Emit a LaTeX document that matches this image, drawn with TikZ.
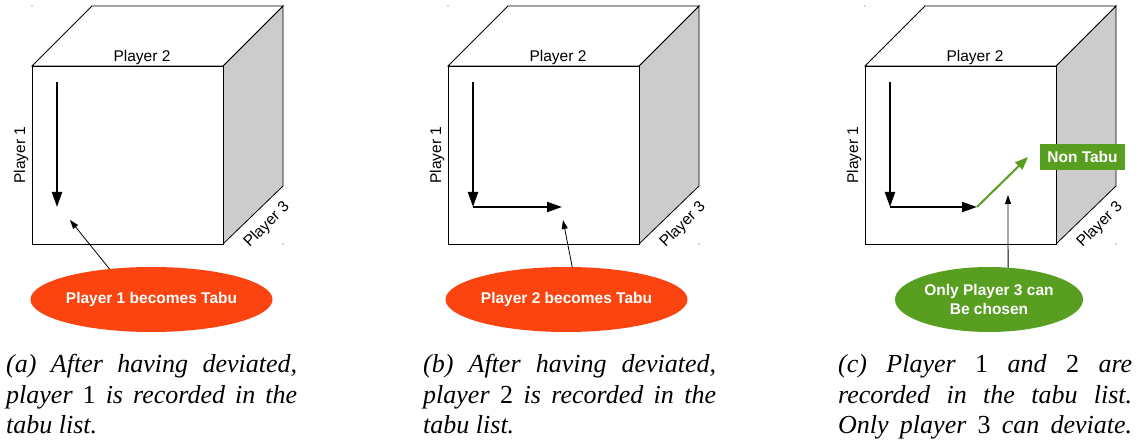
\documentclass[tikz,border=0pt]{standalone}
\usepackage{fontspec}
\setmainfont{Liberation Serif}
\newfontfamily\arialfam{Liberation Sans}
\usetikzlibrary{shapes.geometric,arrows.meta}
\definecolor{tabured}{RGB}{252,68,16}
\definecolor{nontabugreen}{RGB}{88,158,32}
\definecolor{sideface}{RGB}{204,204,204}
\tikzset{
  cubeline/.style={draw=black, line width=0.8pt, line join=miter},
  plabel/.style={font=\arialfam\fontsize{15.5}{18}\selectfont, inner sep=0pt},
  movearrow/.style={line width=2pt, -{Triangle[length=15pt,width=10pt]}},
  greenarrow/.style={draw=nontabugreen, line width=2pt, -{Triangle[length=13pt,width=10pt,fill=nontabugreen]}},
  pointer/.style={line width=0.8pt, -{Triangle[length=9pt,width=6pt]}},
  bubble/.style={ellipse, text=white, font=\arialfam\bfseries\fontsize{15.5}{18.5}\selectfont,
    inner sep=0pt, outer sep=0pt, align=center},
  tagbox/.style={rectangle, text=white, font=\arialfam\bfseries\fontsize{15.5}{18.5}\selectfont,
    inner sep=0pt, outer sep=0pt},
  capline/.style={anchor=base west, inner sep=0pt, font=\itshape\fontsize{26}{31}\selectfont},
  cornerdot/.style={fill=black!70, draw=none}
}
\newcommand{\mycube}[2]{%
  \begin{scope}[shift={(#1,0)}]
    \draw[cubeline, fill=sideface] (191,66) -- (251,6) -- (251,186) -- (191,244) -- cycle;
    \draw[cubeline, fill=white] (0,66) -- (60,6) -- (251,6) -- (191,66) -- cycle;
    \draw[cubeline, fill=white] (0,66) rectangle (191,244);
    \node[plabel, anchor=base] (ptwo#2) at (110,62) {Player 2};
    \node[plabel, anchor=base, rotate=90] (pone#2) at (-7,155) {Player 1};
    \node[plabel, rotate=45] (pthree#2) at (235,225) {Player 3};
    \fill[cornerdot] (0,6) circle (0.7);
    \fill[cornerdot] (251,244) circle (0.7);
  \end{scope}}
\begin{document}
\begin{tikzpicture}[x=1pt,y=-1pt]
\useasboundingbox (0,0) rectangle (1140,443);
\fill[white] (0,0) rectangle (1140,443);

% ---------- panel (a) ----------
\mycube{32}{a}
\coordinate (av0) at (57,82);
\coordinate (av1) at (57,207);
\draw[movearrow] (av0) -- (av1);
\node[bubble, fill=tabured, minimum width=191pt, minimum height=65pt] (ea) at (151.5,299.5) {Player 1 becomes Tabu};
\coordinate (ta) at (70,220);
\draw[pointer] (ea.144) -- (ta);

% ---------- panel (b) ----------
\mycube{448}{b}
\coordinate (bv0) at (473,82);
\coordinate (bv1) at (473,207);
\coordinate (bh1) at (562,207);
\draw[movearrow] (bv0) -- (bv1);
\draw[movearrow] (bv1) -- (bh1);
\node[bubble, fill=tabured, minimum width=187pt, minimum height=65pt] (eb) at (566.5,299.5) {Player 2 becomes Tabu};
\coordinate (tb) at (563,220);
\draw[pointer] (eb.80) -- (tb);

% ---------- panel (c) ----------
\mycube{865}{c}
\coordinate (cv0) at (890,82);
\coordinate (cv1) at (890,207);
\coordinate (ch1) at (977,207);
\coordinate (cg1) at (1028,157);
\draw[movearrow] (cv0) -- (cv1);
\draw[movearrow] (cv1) -- (ch1);
\draw[greenarrow] (ch1) -- (cg1);
\node[tagbox, fill=nontabugreen, minimum width=85pt, minimum height=26pt] (nt) at (1082.5,157) {Non Tabu};
\node[bubble, fill=nontabugreen, minimum width=188pt, minimum height=65pt] (ec) at (989,299.5) {Only Player 3 can\\Be chosen};
\coordinate (tc) at (1008,195);
\draw[pointer] (ec.59) -- (tc);

% ---------- captions ----------
\node[capline] (ca1) at (6,372) {\makebox[291pt][s]{(a) After having deviated,}};
\node[capline] (ca2) at (6,403) {\makebox[291pt][s]{player {\upshape 1} is recorded in the}};
\node[capline] (ca3) at (6,433) {tabu list.};

\node[capline] (cb1) at (423,372) {\makebox[293pt][s]{(b) After having deviated,}};
\node[capline] (cb2) at (423,403) {\makebox[293pt][s]{player {\upshape 2} is recorded in the}};
\node[capline] (cb3) at (423,433) {tabu list.};

\node[capline] (cc1) at (838,372) {\makebox[294pt][s]{(c) Player {\upshape 1} and {\upshape 2} are}};
\node[capline] (cc2) at (838,403) {\makebox[294pt][s]{recorded in the tabu list.}};
\node[capline] (cc3) at (838,433) {\makebox[294pt][s]{Only player {\upshape 3} can deviate.}};
\end{tikzpicture}
\end{document}
